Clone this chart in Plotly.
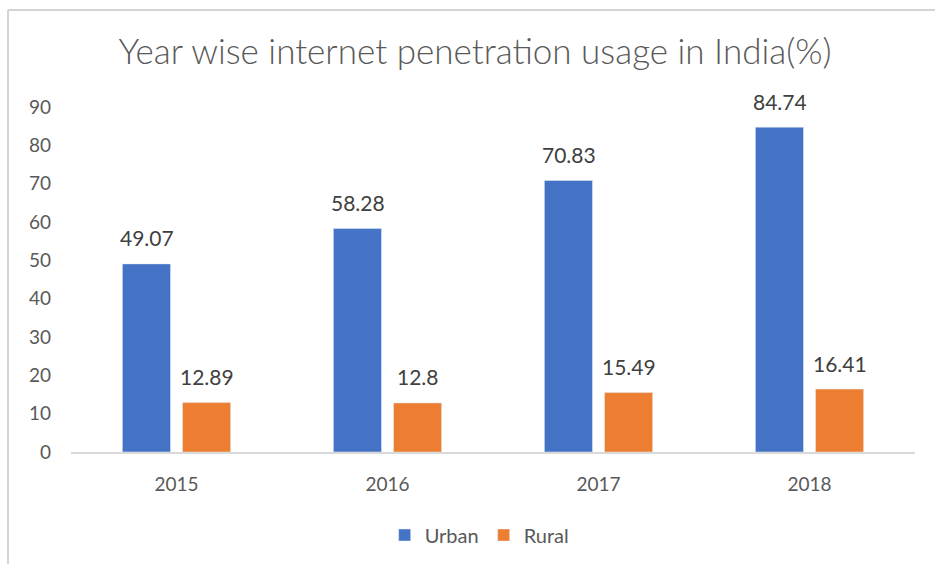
import plotly.graph_objects as go

years = ["2015", "2016", "2017", "2018"]
urban = [49.07, 58.28, 70.83, 84.74]
rural = [12.89, 12.8, 15.49, 16.41]
y_ticks = [0, 10, 20, 30, 40, 50, 60, 70, 80, 90]

W, H = 935, 564
ML, MR, MT, MB = 71, 20, 107, 112

def px_x(p):
    return (p - ML) / (W - ML - MR)

def px_y(p):
    return (H - MB - p) / (H - MT - MB)

FONT = "Lato, Open Sans, sans-serif"
label_font = dict(family=FONT, size=21, color="#404040")
tick_font = dict(family=FONT, size=19, color="#595959")

fig = go.Figure()
fig.add_trace(go.Bar(name="Urban", x=years, y=urban, marker_color="#4472C4"))
fig.add_trace(go.Bar(name="Rural", x=years, y=rural, marker_color="#ED7D31"))

# value labels above each bar (x given as category index)
for series, shift in ((urban, -30), (rural, 30)):
    for i, v in enumerate(series):
        fig.add_annotation(
            x=i, y=v, xref="x", yref="y", text=f"{v:g}", showarrow=False,
            xshift=shift, yshift=26, yanchor="middle", font=label_font,
        )

fig.update_layout(
    width=W, height=H,
    margin=dict(l=ML, r=MR, t=MT, b=MB),
    paper_bgcolor="white", plot_bgcolor="white",
    barmode="group", bargap=0.43, bargroupgap=0.2,
    title=dict(
        text="Year wise internet penetration usage in India(%)",
        x=475 / W, xref="container", xanchor="center",
        y=1 - 52 / H, yanchor="middle",
        font=dict(family=FONT, size=35, color="#595959", weight=300),
    ),
    showlegend=True,
    legend=dict(
        orientation="h", x=0.513, xanchor="center", xref="container",
        y=1 - 535 / H, yref="container", yanchor="middle",
        font=dict(family=FONT, size=20, color="#595959"),
        itemwidth=30, traceorder="normal",
    ),
)

fig.update_xaxes(
    type="category", range=[-0.5, len(years) - 0.5],
    showline=True, linecolor="#D9D9D9", linewidth=2,
    showgrid=False, ticks="", ticklabelstandoff=14,
    tickfont=tick_font,
)
fig.update_yaxes(
    range=[0, 90], tickvals=y_ticks, showgrid=False, zeroline=False,
    showline=False, ticks="", ticklabelstandoff=19,
    tickfont=tick_font,
)

# chart frame (top and left edges)
fig.add_shape(type="line", xref="paper", yref="paper",
              x0=px_x(8), x1=px_x(940), y0=px_y(10), y1=px_y(10),
              line=dict(color="#D4D4D4", width=2))
fig.add_shape(type="line", xref="paper", yref="paper",
              x0=px_x(8), x1=px_x(8), y0=px_y(10), y1=px_y(570),
              line=dict(color="#D4D4D4", width=2))

fig.write_html("out.html")
